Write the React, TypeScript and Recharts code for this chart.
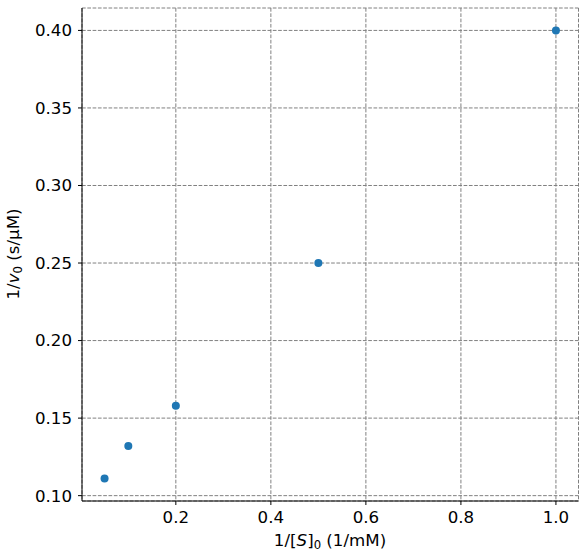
import React from "react"
import {
  CartesianGrid,
  Scatter,
  ScatterChart,
  XAxis,
  YAxis,
} from "recharts"

// Lineweaver-Burk points
const invSubstrate = [0.05, 0.1, 0.2, 0.5, 1.0]
const invVelocity = [0.111, 0.132, 0.158, 0.25, 0.4]
const xTicks = [0.2, 0.4, 0.6, 0.8, 1.0]
const yTicks = [0.1, 0.15, 0.2, 0.25, 0.3, 0.35, 0.4]

const points = invSubstrate.map((x, i) => ({ x, y: invVelocity[i] }))

// matplotlib-style 5% autoscale margins
const xMin = Math.min(...invSubstrate)
const xMax = Math.max(...invSubstrate)
const yMin = Math.min(...invVelocity)
const yMax = Math.max(...invVelocity)
const xPad = (xMax - xMin) * 0.05
const yPad = (yMax - yMin) * 0.05
const xDomain: [number, number] = [xMin - xPad, xMax + xPad]
const yDomain: [number, number] = [yMin - yPad, yMax + yPad]

const FONT = "'DejaVu Sans', sans-serif"
const FS = 16.67
const SUB = 11.7
const tickStyle = { fill: "#000", fontSize: FS, fontFamily: FONT }

function XLabel() {
  return (
    <text x={330} y={546} textAnchor="middle" fontSize={FS} fontFamily={FONT} fill="#000">
      <tspan>1/[</tspan>
      <tspan fontStyle="italic">S</tspan>
      <tspan>]</tspan>
      <tspan fontSize={SUB} dy={3}>0</tspan>
      <tspan dy={-3}> (1/mM)</tspan>
    </text>
  )
}

function YLabel() {
  return (
    <text
      x={0}
      y={0}
      transform="translate(18.5, 254) rotate(-90)"
      textAnchor="middle"
      fontSize={FS}
      fontFamily={FONT}
      fill="#000"
    >
      <tspan>1/</tspan>
      <tspan fontStyle="italic">v</tspan>
      <tspan fontSize={SUB} dy={3}>0</tspan>
      <tspan dy={-3}> (s/μM)</tspan>
    </text>
  )
}

function Dot(props: any) {
  const { cx, cy } = props
  return <circle cx={cx} cy={cy} r={4} fill="#1f77b4" />
}

export default function App() {
  return (
    <div style={{ position: "absolute", left: 0, top: 0, background: "#fff" }}>
      <ScatterChart
        width={585}
        height={560}
        margin={{ top: 8, right: 6.5, bottom: 0, left: 0 }}
      >
        <CartesianGrid
          stroke="#808080"
          strokeWidth={1}
          strokeDasharray="3.7 1.6"
        />
        <XAxis
          type="number"
          dataKey="x"
          domain={xDomain}
          allowDataOverflow
          ticks={xTicks}
          tickFormatter={(v: number) => v.toFixed(1)}
          tick={tickStyle}
          tickSize={4}
          tickMargin={6}
          tickLine={{ stroke: "#000" }}
          axisLine={{ stroke: "#000" }}
          height={59}
          label={{ content: () => <XLabel /> }}
        />
        <XAxis
          xAxisId="top"
          orientation="top"
          type="number"
          domain={xDomain}
          allowDataOverflow
          tick={false}
          tickLine={false}
          axisLine={{ stroke: "#000" }}
          height={0}
        />
        <YAxis
          type="number"
          dataKey="y"
          domain={yDomain}
          allowDataOverflow
          ticks={yTicks}
          tickFormatter={(v: number) => v.toFixed(2)}
          tick={tickStyle}
          tickSize={4}
          tickMargin={6}
          tickLine={{ stroke: "#000" }}
          axisLine={{ stroke: "#000" }}
          width={82}
          label={{ content: () => <YLabel /> }}
        />
        <YAxis
          yAxisId="right"
          orientation="right"
          type="number"
          domain={yDomain}
          allowDataOverflow
          tick={false}
          tickLine={false}
          axisLine={{ stroke: "#000" }}
          width={0}
        />
        <Scatter data={points} shape={<Dot />} isAnimationActive={false} />
      </ScatterChart>
    </div>
  )
}
